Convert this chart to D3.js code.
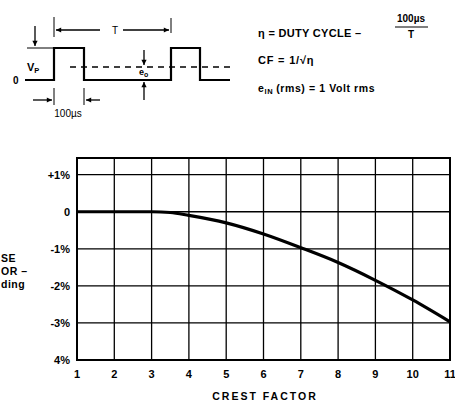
<!DOCTYPE html>
<html>
<head>
<meta charset="utf-8">
<script src="https://cdn.jsdelivr.net/npm/d3@7"></script>
<style>
  body { margin: 0; background: #fff; }
  svg text { font-family: "Liberation Sans", Arial, sans-serif; font-weight: bold; fill: #000; }
</style>
</head>
<body>
<svg id="chart" width="455" height="403"></svg>
<script>
// crest factor vs error reading
var crest_factor = [1, 2, 3, 3.5, 4, 5, 6, 7, 8, 9, 10, 11];
var error_pct = [0, 0, 0, -0.02, -0.1, -0.3, -0.6, -0.97, -1.37, -1.85, -2.38, -2.97];

var x_ticks = [1, 2, 3, 4, 5, 6, 7, 8, 9, 10, 11];
var y_ticks = [1, 0, -1, -2, -3, -4];
var y_tick_labels = ["+1%", "0", "-1%", "-2%", "-3%", "4%"];

// what is visible of the left axis title (the scan cuts it off)
var y_title = ["SE", "OR \u2013", "ding"];

// square wave sketch (t: pulse edges, level 0..1)
var wave_pts = [[0, 0], [1, 0], [1, 1], [2, 1], [2, 0], [4, 0], [4, 1], [5, 1], [5, 0], [6, 0]];

var svg = d3.select("#chart");

var x = d3.scaleLinear().domain([1, 11]).range([77, 450]);
var y = d3.scaleLinear().domain([-4, 1.45]).range([360, 158]);

// grid
var grid = svg.append("g").attr("stroke", "#000").attr("stroke-width", 1.3);
grid.selectAll(".vline")
    .data(x_ticks.slice(1, -1))
  .enter().append("line")
    .attr("x1", function(d) { return x(d); })
    .attr("x2", function(d) { return x(d); })
    .attr("y1", y(1.45))
    .attr("y2", y(-4));
grid.selectAll(".hline")
    .data(y_ticks.slice(0, -1))
  .enter().append("line")
    .attr("x1", x(1))
    .attr("x2", x(11))
    .attr("y1", function(d) { return y(d); })
    .attr("y2", function(d) { return y(d); });

svg.append("rect")
    .attr("x", x(1)).attr("y", y(1.45))
    .attr("width", x(11) - x(1)).attr("height", y(-4) - y(1.45))
    .attr("fill", "none").attr("stroke", "#000").attr("stroke-width", 2);

// curve
var line = d3.line()
    .x(function(d, i) { return x(crest_factor[i]); })
    .y(function(d) { return y(d); })
    .curve(d3.curveMonotoneX);
svg.append("path")
    .attr("d", line(error_pct))
    .attr("fill", "none")
    .attr("stroke", "#000")
    .attr("stroke-width", 3.2);

// tick labels
svg.selectAll(".ylab")
    .data(y_ticks)
  .enter().append("text")
    .attr("x", 70)
    .attr("y", function(d) { return y(d) + 4; })
    .attr("text-anchor", "end")
    .style("font-size", "11px")
    .text(function(d, i) { return y_tick_labels[i]; });

svg.selectAll(".xlab")
    .data(x_ticks)
  .enter().append("text")
    .attr("x", function(d) { return x(d); })
    .attr("y", 378)
    .attr("text-anchor", "middle")
    .style("font-size", "11px")
    .text(function(d) { return d; });

svg.append("text")
    .attr("x", 265).attr("y", 400)
    .attr("text-anchor", "middle")
    .style("font-size", "10.5px")
    .style("letter-spacing", "2px")
    .text("CREST FACTOR");

svg.selectAll(".ytitle")
    .data(y_title)
  .enter().append("text")
    .attr("x", 1)
    .attr("y", function(d, i) { return 262 + i * 13; })
    .style("font-size", "10.5px")
    .style("letter-spacing", "0.5px")
    .text(function(d) { return d; });

// ---- waveform sketch ----
var wx = d3.scaleLinear().domain([0, 1, 2, 4, 5, 6]).range([25, 54, 84, 171, 200, 230]);
var wy = d3.scaleLinear().domain([0, 1]).range([80, 48]);

var sk = svg.append("g").attr("stroke", "#000").attr("fill", "none");
sk.append("path")
    .attr("d", d3.line().x(function(d) { return wx(d[0]); }).y(function(d) { return wy(d[1]); })(wave_pts))
    .attr("stroke-width", 2.2);

sk.append("line")
    .attr("x1", 70).attr("x2", 230).attr("y1", 67).attr("y2", 67)
    .attr("stroke-width", 1.3).attr("stroke-dasharray", "6,5");

var defs = svg.append("defs");
defs.append("marker")
    .attr("id", "ah")
    .attr("viewBox", "0 0 10 10")
    .attr("refX", 10).attr("refY", 5)
    .attr("markerWidth", 5).attr("markerHeight", 4)
    .attr("orient", "auto")
  .append("path").attr("d", "M0,0L10,5L0,10z").attr("fill", "#000");

function arrow(x1, y1, x2, y2) {
  sk.append("line")
      .attr("x1", x1).attr("y1", y1).attr("x2", x2).attr("y2", y2)
      .attr("stroke-width", 1.3)
      .attr("marker-end", "url(#ah)");
}
function seg(x1, y1, x2, y2, w) {
  sk.append("line")
      .attr("x1", x1).attr("y1", y1).attr("x2", x2).attr("y2", y2)
      .attr("stroke-width", w || 1);
}

// Vp
seg(27, 48, 54, 48);
arrow(35, 26, 35, 46);
// T
seg(54, 17, 54, 37);
seg(171, 18, 171, 33);
arrow(100, 30, 56, 30);
arrow(123, 30, 169, 30);
// eo
arrow(144, 50, 144, 65);
arrow(144, 100, 144, 82);
// 100us
seg(54, 88, 54, 105);
seg(84, 88, 84, 105);
arrow(33, 100, 52, 100);
arrow(100, 100, 86, 100);

svg.append("text").attr("x", 112).attr("y", 34).style("font-size", "10px").style("font-weight", "normal").text("T");
svg.append("text").attr("x", 13).attr("y", 84).style("font-size", "10px").text("0");
var vp = svg.append("text").attr("x", 27).attr("y", 71).style("font-size", "11px");
vp.append("tspan").text("V");
vp.append("tspan").attr("dy", 2).style("font-size", "7.5px").text("P");
var eo = svg.append("text").attr("x", 139).attr("y", 75).style("font-size", "9px");
eo.append("tspan").text("e");
eo.append("tspan").attr("dy", 2).style("font-size", "7px").text("o");
svg.append("text").attr("x", 68).attr("y", 117).attr("text-anchor", "middle")
    .style("font-size", "10px").style("font-weight", "normal").text("100\u00b5s");

// formulas on the right
svg.append("text").attr("x", 258).attr("y", 37).style("font-size", "11px").style("letter-spacing", "0.3px")
    .text("\u03b7 = DUTY CYCLE \u2013");
svg.append("text").attr("x", 411).attr("y", 22).attr("text-anchor", "middle").style("font-size", "10px")
    .text("100\u00b5s");
seg(395, 27, 428, 27, 1.2);
svg.append("text").attr("x", 411).attr("y", 38).attr("text-anchor", "middle").style("font-size", "10px")
    .text("T");

svg.append("text").attr("x", 258).attr("y", 64).style("font-size", "11px").style("letter-spacing", "0.8px")
    .text("CF = 1/\u221a\u03b7");

var ein = svg.append("text").attr("x", 258).attr("y", 92).style("font-size", "10.5px").style("letter-spacing", "0.6px");
ein.append("tspan").text("e");
ein.append("tspan").attr("dy", 2).style("font-size", "7.5px").text("IN");
ein.append("tspan").attr("dy", -2).attr("dx", 3).text("(rms) = 1 Volt rms");
</script>
</body>
</html>
